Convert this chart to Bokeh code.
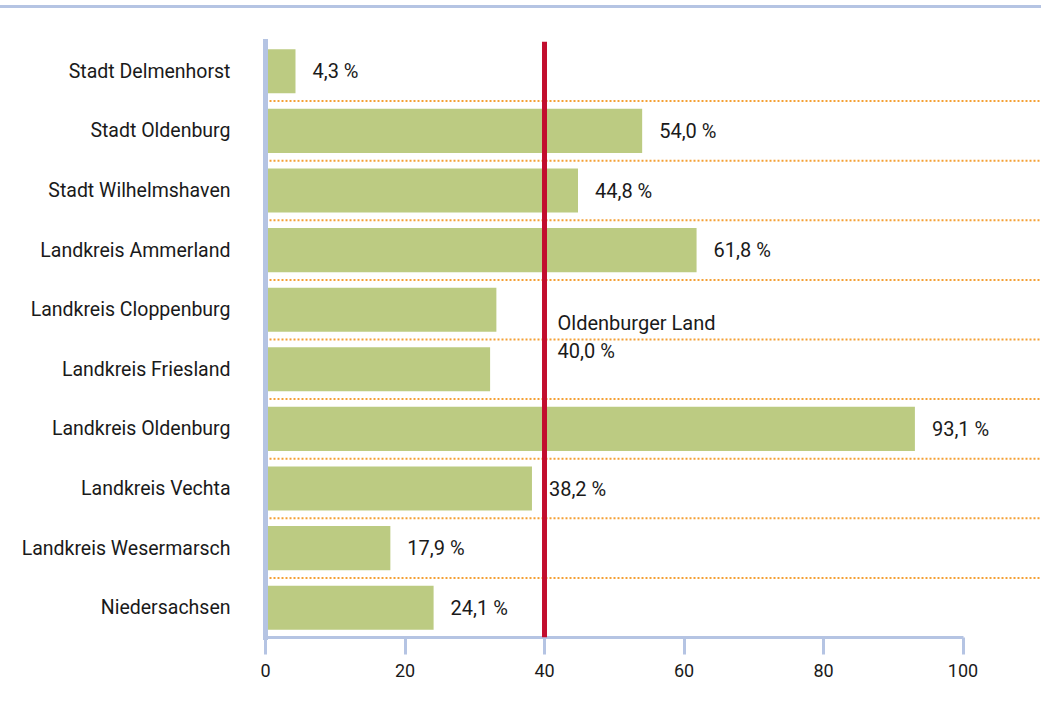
from bokeh.plotting import figure
from bokeh.models import FactorRange, Range1d, Span, FixedTicker, ColumnDataSource
from bokeh.core.properties import value
from bokeh.embed import file_html
from bokeh.resources import INLINE

# ---- data ----
categories = ["Stadt Delmenhorst", "Stadt Oldenburg", "Stadt Wilhelmshaven",
              "Landkreis Ammerland", "Landkreis Cloppenburg", "Landkreis Friesland",
              "Landkreis Oldenburg", "Landkreis Vechta", "Landkreis Wesermarsch",
              "Niedersachsen"]
values = [4.3, 54.0, 44.8, 61.8, 33.1, 32.2, 93.1, 38.2, 17.9, 24.1]
show_label = [True, True, True, True, False, False, True, True, True, True]
reference_value = 40.0
reference_label = "Oldenburger Land"
x_ticks = [0, 20, 40, 60, 80, 100]

# ---- styles ----
FONT = "Roboto"
TXT = "#1a1a1a"
AXIS = "#b5c4e3"
GREEN = "#bccb82"
RED = "#c20e2e"
ORANGE = "#f4a035"


def fmt(v):
    return f"{v:.1f}".replace(".", ",") + " %"


p = figure(width=1041, height=700,
           y_range=FactorRange(*reversed(categories)),
           x_range=Range1d(0, 111.25),
           output_backend="svg", toolbar_location=None,
           min_border_left=265, min_border_right=0,
           min_border_top=41, min_border_bottom=63)
p.xgrid.visible = False
p.ygrid.visible = False
p.outline_line_color = None
p.background_fill_color = "white"
p.border_fill_color = None
# thin rule along the top edge of the page (drawn behind the transparent border)
p.styles = {"background": f"linear-gradient(to bottom, #ffffff 0px, #ffffff 5px, "
                          f"{AXIS} 5px, {AXIS} 8px, #ffffff 8px, #ffffff 100%)"}

# row separators (dotted)
for k in range(1, len(categories)):
    p.add_layout(Span(location=k, dimension="width", line_color=ORANGE,
                      line_width=2, line_dash="2 2", level="underlay"))

src = ColumnDataSource(dict(cat=categories, val=values))
p.hbar(y="cat", left=0, right="val", height=0.74, fill_color=GREEN,
       line_color=None, source=src)

lab_cats = [c for c, s in zip(categories, show_label) if s]
lab_vals = [v for v, s in zip(values, show_label) if s]
lab_src = ColumnDataSource(dict(cat=lab_cats, val=lab_vals,
                                txt=[fmt(v) for v in lab_vals]))
p.text(x="val", y="cat", text="txt", x_offset=17, text_baseline="middle",
       text_align="left", text_font=value(FONT), text_font_size="20px",
       text_color=TXT, source=lab_src)

# reference line
p.add_layout(Span(location=reference_value, dimension="height",
                  line_color=RED, line_width=5))
n = len(categories)
boundary = n - categories.index("Landkreis Friesland")  # synthetic coord between rows
p.text(x=[reference_value, reference_value],
       y=[boundary + 0.27, boundary - 0.19],
       text=[reference_label, fmt(reference_value)],
       x_offset=13, text_baseline="middle", text_align="left",
       text_font=value(FONT), text_font_size="20px", text_color=TXT)

# left axis
ya = p.yaxis[0]
ya.axis_line_color = AXIS
ya.axis_line_width = 5
ya.axis_line_cap = "square"
ya.major_tick_line_color = None
ya.minor_tick_line_color = None
ya.major_label_standoff = 29
ya.major_label_text_font = FONT
ya.major_label_text_font_size = "19.5px"
ya.major_label_text_color = TXT

# bottom axis
xa = p.xaxis[0]
xa.ticker = FixedTicker(ticks=x_ticks, minor_ticks=[])
xa.bounds = (0, 100)
xa.axis_line_color = AXIS
xa.axis_line_width = 3
xa.major_tick_line_color = AXIS
xa.major_tick_line_width = 3
xa.major_tick_in = 0
xa.major_tick_out = 17
xa.minor_tick_line_color = None
xa.major_label_standoff = 9
xa.major_label_text_font = FONT
xa.major_label_text_font_size = "18px"
xa.major_label_text_color = TXT

open("out.html", "w").write(file_html(p, INLINE))
